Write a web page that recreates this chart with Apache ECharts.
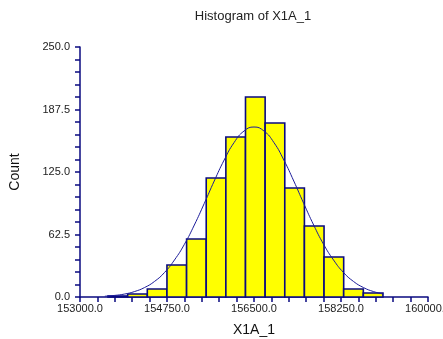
<!DOCTYPE html>
<html>
<head>
<meta charset="utf-8">
<script src="https://cdn.jsdelivr.net/npm/echarts@6/dist/echarts.min.js"></script>
<style>
html,body{margin:0;padding:0;background:#fff;}
#c{width:443px;height:339px;}
</style>
</head>
<body>
<div id="c"></div>
<script>
// Histogram bin edges (X1A_1) and counts
var binEdges = [153564, 153959, 154354, 154749, 155144, 155539, 155934, 156329, 156724, 157119, 157514, 157909, 158304, 158699, 159094];
var binCounts = [1, 3, 8, 32, 58, 119, 160, 200, 174, 109, 71, 40, 8, 4];
// Fitted normal curve
var curveX = [153500, 153700, 153900, 154100, 154300, 154500, 154700, 154900, 155100, 155300, 155500, 155700, 155900, 156100, 156300, 156500, 156700, 156900, 157100, 157300, 157500, 157700, 157900, 158100, 158300, 158500, 158700, 158900, 159100];
var curveY = [0.8, 1.6, 3.0, 5.5, 9.5, 15.6, 24.5, 37, 52.7, 72, 93.6, 116, 137, 154.5, 166, 170, 166, 154.5, 137, 116, 93.6, 72, 52.7, 37, 24.5, 15.6, 9.5, 5.5, 3.0];
var xTicks = [153000, 154750, 156500, 158250, 160000];
var yTicks = [0, 62.5, 125, 187.5, 250];

var navy = '#0a0a80';
var font = 'Liberation Sans, Arial';
var bars = binCounts.map(function (c, i) { return [binEdges[i], binEdges[i + 1], c]; });
var curve = curveX.map(function (x, i) { return [x, curveY[i]]; });

var chart = echarts.init(document.getElementById('c'), null, {renderer: 'canvas'});
chart.setOption({
  animation: false,
  graphic: [{
    type: 'text', x: 253, y: 16, z: 10,
    style: {text: 'Histogram of X1A_1', font: '13px ' + font, fill: '#222',
      textAlign: 'center', textVerticalAlign: 'middle'}
  }],
  grid: {left: 80, right: 15, top: 47, bottom: 42, containLabel: false, outerBoundsMode: 'none'},
  xAxis: {
    type: 'value', min: xTicks[0], max: xTicks[xTicks.length - 1], interval: 1750,
    name: 'X1A_1', nameLocation: 'middle', nameGap: 26,
    nameTextStyle: {fontFamily: font, fontSize: 14, color: '#111'},
    axisLine: {lineStyle: {color: navy, width: 1.5}},
    axisTick: {show: true, length: 5, lineStyle: {color: navy, width: 1.5}},
    minorTick: {show: true, splitNumber: 5, length: 5, lineStyle: {color: navy, width: 1.5}},
    axisLabel: {fontFamily: font, fontSize: 11, color: '#222', margin: 6, hideOverlap: false,
      formatter: function (v) { return v.toFixed(1); }, showMaxLabel: true, showMinLabel: true},
    splitLine: {show: false}
  },
  yAxis: {
    type: 'value', min: 0, max: 250, interval: 62.5,
    name: 'Count', nameLocation: 'middle', nameGap: 58, nameRotate: 90,
    nameTextStyle: {fontFamily: font, fontSize: 14, color: '#111'},
    axisLine: {show: true, lineStyle: {color: navy, width: 1.5}},
    axisTick: {show: true, length: 5, lineStyle: {color: navy, width: 1.5}},
    minorTick: {show: true, splitNumber: 5, length: 5, lineStyle: {color: navy, width: 1.5}},
    axisLabel: {fontFamily: font, fontSize: 11, color: '#222', margin: 10,
      formatter: function (v) { return v.toFixed(1); }},
    splitLine: {show: false}
  },
  series: [
    {
      type: 'custom',
      data: bars,
      renderItem: function (params, api) {
        var p0 = api.coord([api.value(0), api.value(2)]);
        var p1 = api.coord([api.value(1), 0]);
        return {
          type: 'rect',
          shape: {x: p0[0], y: p0[1], width: p1[0] - p0[0], height: p1[1] - p0[1]},
          style: {fill: '#ffff00', stroke: navy, lineWidth: 1.6}
        };
      },
      encode: {x: [0, 1], y: 2},
      z: 2
    },
    {
      type: 'line', data: curve, smooth: true, showSymbol: false,
      lineStyle: {color: '#1c1c9a', width: 1},
      z: 3
    }
  ]
});
</script>
</body>
</html>
